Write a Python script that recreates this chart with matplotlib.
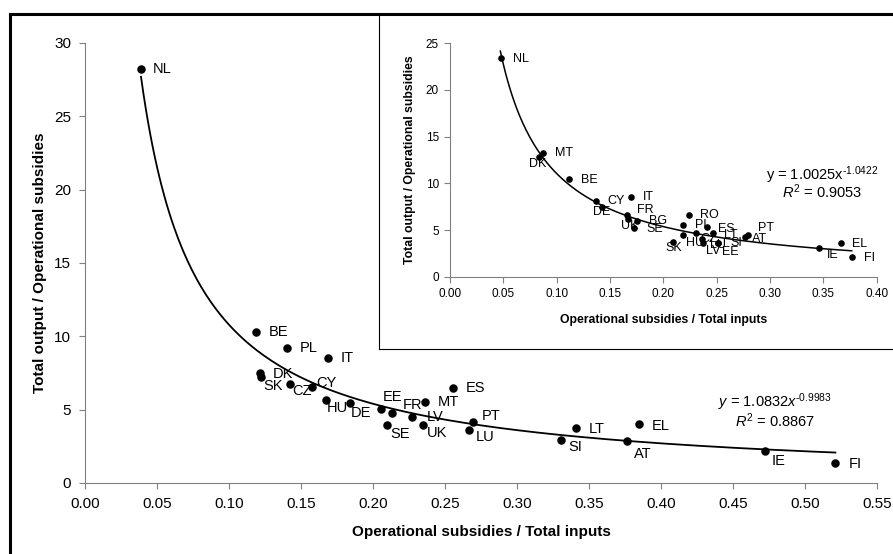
import numpy as np
import matplotlib
matplotlib.use("Agg")
import matplotlib.pyplot as plt
from matplotlib.lines import Line2D

plt.rcParams["font.family"] = ["Liberation Sans", "DejaVu Sans"]
plt.rcParams["mathtext.fontset"] = "custom"
plt.rcParams["mathtext.rm"] = "Liberation Sans"
plt.rcParams["mathtext.it"] = "Liberation Sans:italic"

# Main chart data
main_countries = ["NL", "BE", "PL", "IT", "DK", "SK", "CZ", "CY", "HU", "DE", "EE", "FR",
                  "LV", "SE", "UK", "MT", "ES", "PT", "LU", "LT", "SI", "AT", "EL", "IE", "FI"]
main_x = [0.0389, 0.1188, 0.1403, 0.1685, 0.1215, 0.1222, 0.1424, 0.1576, 0.1676, 0.1838,
          0.2056, 0.2132, 0.2273, 0.2097, 0.2350, 0.2363, 0.2558, 0.2697, 0.2664, 0.3412,
          0.3306, 0.3764, 0.3849, 0.4725, 0.5211]
main_y = [28.2, 10.3, 9.22, 8.50, 7.52, 7.20, 6.73, 6.54, 5.68, 5.45,
          5.07, 4.75, 4.52, 3.93, 3.93, 5.54, 6.48, 4.16, 3.64, 3.77,
          2.95, 2.84, 4.04, 2.16, 1.36]
main_a, main_b, main_r2 = "1.0832", "-0.9983", "0.8867"

# Inset chart data
ins_countries = ["NL", "DK", "MT", "BE", "CY", "DE", "IT", "FR", "UK", "BG", "SE", "SK", "RO",
                 "PL", "HU", "CZ", "ES", "LT", "LV", "LU", "SI", "EE", "PT", "AT", "IE", "EL", "FI"]
ins_x = [0.0478, 0.0831, 0.0875, 0.1119, 0.1369, 0.1428, 0.1697, 0.1662, 0.1665, 0.1750,
         0.1728, 0.2094, 0.2244, 0.2188, 0.2188, 0.2306, 0.2406, 0.2469, 0.2375, 0.2359,
         0.2516, 0.2516, 0.2790, 0.2766, 0.3460, 0.3666, 0.3766]
ins_y = [23.4, 12.86, 13.2, 10.47, 8.14, 7.43, 8.57, 6.58, 6.21, 6.00,
         5.22, 3.75, 6.58, 5.54, 4.47, 4.65, 5.29, 4.71, 3.57, 4.00,
         3.64, 3.64, 4.47, 4.29, 3.04, 3.57, 2.07]
ins_a, ins_b, ins_r2 = "1.0025", "-1.0422", "0.9053"

# label offsets in pixels (dx right, dy down)
main_off = {"NL": (12, 0), "BE": (13, 0), "PL": (13, 0), "IT": (13, 0), "DK": (13, 1),
            "SK": (2, 9), "CZ": (2, 7), "CY": (4, -4), "HU": (0, 8), "DE": (1, 10),
            "EE": (2, -12), "FR": (11, -8), "LV": (14, 0), "SE": (3, 9), "UK": (3, 8),
            "MT": (12, 0), "ES": (12, 0), "PT": (8, -6), "LU": (7, 7), "LT": (12, 1),
            "SI": (7, 7), "AT": (7, 13), "EL": (12, 2), "IE": (6, 10), "FI": (13, 1)}
ins_off = {"NL": (12, 1), "DK": (-10, 7), "MT": (12, 0), "BE": (12, 1), "CY": (11, 0),
           "DE": (-9, 5), "IT": (12, 0), "FR": (10, -5), "UK": (-7, 7), "BG": (12, 0),
           "SE": (12, 1), "SK": (-8, 6), "RO": (11, 0), "PL": (12, 0), "HU": (3, 8),
           "CZ": (4, 6), "ES": (11, 2), "LT": (11, 2), "LV": (3, 8), "LU": (8, 6),
           "SI": (12, 0), "EE": (4, 9), "PT": (10, -7), "AT": (7, 2), "IE": (8, 7),
           "EL": (11, 1), "FI": (12, 1)}

px = 0.72  # points per pixel at 100 dpi
grey = "#808080"

fig = plt.figure(figsize=(8.93, 5.54), dpi=100)
W, H = 893, 554

def box(l, t, r, b):
    return [l / W, 1 - b / H, (r - l) / W, (b - t) / H]

def style(ax, fs, pad):
    for s in ["top", "right"]:
        ax.spines[s].set_visible(False)
    for s in ["left", "bottom"]:
        ax.spines[s].set_color(grey)
    ax.tick_params(direction="out", length=4, color=grey, labelsize=fs, pad=pad)

# 1. main chart
ax = fig.add_axes(box(85, 43, 877, 483))
style(ax, 11, 6)
ax.scatter(main_x, main_y, s=26, color="black", zorder=3)
xs = np.linspace(min(main_x), max(main_x), 300)
ax.plot(xs, float(main_a) * xs ** float(main_b), color="black", lw=1.3)
for c, x, y in zip(main_countries, main_x, main_y):
    dx, dy = main_off[c]
    ax.annotate(c, (x, y), xytext=(dx * px, -dy * px), textcoords="offset points",
                ha="left", va="center", fontsize=10.5)
ax.set_xlim(0, 0.55)
ax.set_ylim(0, 30)
ax.set_xticks(np.arange(0, 0.551, 0.05))
ax.set_xticklabels([f"{v:.2f}" for v in np.arange(0, 0.551, 0.05)])
ax.set_yticks(range(0, 31, 5))
ax.set_xlabel("Operational subsidies / Total inputs", fontsize=11, fontweight="bold", labelpad=10)
ax.set_ylabel("Total output / Operational subsidies", fontsize=11, fontweight="bold", labelpad=5)
ax.text(0.479, 5.52, r"$\mathit{y}$ = " + main_a + r"$\mathit{x}^{\text{" + main_b + "}}$",
        ha="center", va="center", fontsize=10.5)
ax.text(0.479, 4.23, r"$\mathit{R}^2$ = " + main_r2, ha="center", va="center", fontsize=10.5)

# 2. white box behind the inset
bg = fig.add_axes(box(379, 14, 893, 349))
bg.set_xticks([])
bg.set_yticks([])
bg.spines["top"].set_visible(False)
bg.spines["right"].set_visible(False)
bg.spines["left"].set_color("black")
bg.spines["bottom"].set_color("black")
bg.set_facecolor("white")

# 3. inset chart
ins = fig.add_axes(box(450, 43.3, 876.7, 276.7))
style(ins, 8.5, 4)
ins.scatter(ins_x, ins_y, s=14, color="black", zorder=3)
xs2 = np.linspace(0.0472, max(ins_x), 300)
ins.plot(xs2, float(ins_a) * xs2 ** float(ins_b), color="black", lw=1.1)
for c, x, y in zip(ins_countries, ins_x, ins_y):
    dx, dy = ins_off[c]
    ins.annotate(c, (x, y), xytext=(dx * px, -dy * px), textcoords="offset points",
                 ha="left", va="center", fontsize=9)
ins.set_xlim(0, 0.40)
ins.set_ylim(0, 25)
ins.set_xticks(np.arange(0, 0.401, 0.05))
ins.set_xticklabels([f"{v:.2f}" for v in np.arange(0, 0.401, 0.05)])
ins.set_yticks(range(0, 26, 5))
ins.set_xlabel("Operational subsidies / Total inputs", fontsize=8.8, fontweight="bold", labelpad=10)
ins.set_ylabel("Total output / Operational subsidies", fontsize=8.8, fontweight="bold", labelpad=7)
ins.text(0.349, 10.9, "y = " + ins_a + r"x$^{\text{" + ins_b + "}}$", ha="center",
         va="center", fontsize=10.5)
ins.text(0.349, 9.1, r"$\mathit{R}^2$ = " + ins_r2, ha="center", va="center", fontsize=10.5)

# 4. outer frame lines (left and top)
fig.add_artist(Line2D([10 / W, 10 / W], [0, 1 - 14 / H], color="black", lw=2.2))
fig.add_artist(Line2D([10 / W, 1], [1 - 14 / H, 1 - 14 / H], color="black", lw=2.2))

fig.savefig("out.png", dpi=100)
